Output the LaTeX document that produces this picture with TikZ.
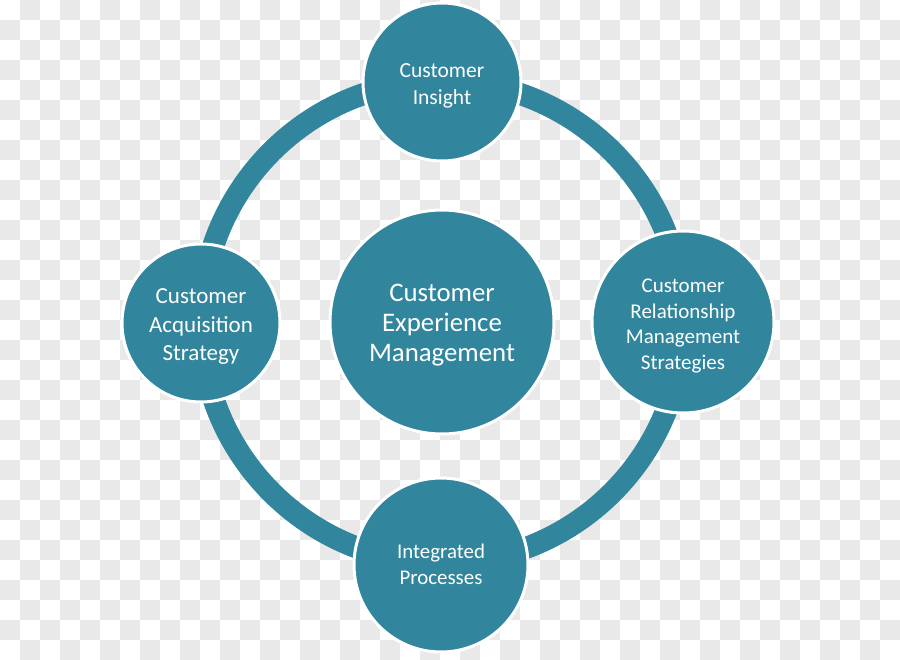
\documentclass[tikz,border=0pt]{standalone}
\usepackage{fontspec}
\setmainfont{Carlito}
\definecolor{aqua}{HTML}{31859C}
\definecolor{tablero}{HTML}{E9E9E9}

\begin{document}
\begin{tikzpicture}[x=1pt, y=-1pt,
  bolita/.style={circle, fill=aqua, draw=white, line width=3pt, inner sep=0pt},
  rotulo/.style={text=white, align=center, inner sep=0pt, yshift=-4pt},
  anillo/.style={draw=aqua, line width=22pt}]
  % fondo a cuadros
  \useasboundingbox (0,0) rectangle (900,660);
  \fill[white] (0,0) rectangle (900,660);
  \foreach \i in {0,2,...,44}
    \foreach \j in {1,3,...,31}
      \fill[tablero] (20*\i,20*\j) rectangle ++(20,20);
  \foreach \i in {1,3,...,43}
    \foreach \j in {0,2,...,32}
      \fill[tablero] (20*\i,20*\j) rectangle ++(20,20);
  % centro del anillo
  \coordinate (O) at (442,322);
  \draw[anillo] (O) circle[radius=241pt];
  % nodos
  \node[bolita, minimum size=224pt,
    label={[rotulo, font=\fontsize{26.8}{30}\selectfont, yshift=1pt]center:{Customer\\Experience\\Management}}]
    (cem) at (O) {};
  \node[bolita, minimum size=158pt,
    label={[rotulo, font=\fontsize{21.5}{27}\selectfont]center:{Customer\\Insight}}]
    (ins) at (442,82) {};
  \node[bolita, minimum size=182pt,
    label={[rotulo, font=\fontsize{21}{25.5}\selectfont]center:{Customer\\Relationship\\Management\\Strategies}}]
    (crm) at (683,322) {};
  \node[bolita, minimum size=174pt,
    label={[rotulo, font=\fontsize{20.9}{26}\selectfont, yshift=5pt]center:{Integrated\\Processes}}]
    (ip) at (441,565) {};
  \node[bolita, minimum size=158pt,
    label={[rotulo, font=\fontsize{23}{28.5}\selectfont]center:{Customer\\Acquisition\\Strategy}}]
    (cas) at (201,323) {};
\end{tikzpicture}
\end{document}
